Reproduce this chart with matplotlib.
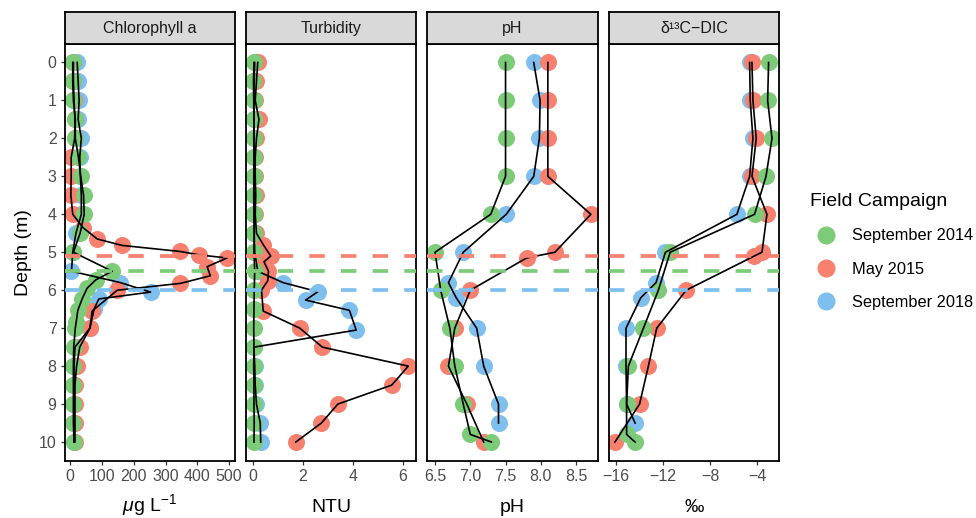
import matplotlib
matplotlib.use('Agg')
import matplotlib.pyplot as plt
from matplotlib.lines import Line2D

plt.rcParams['font.family'] = ['Liberation Sans', 'DejaVu Sans']
plt.rcParams['mathtext.fontset'] = 'custom'
plt.rcParams['mathtext.rm'] = 'Liberation Sans'
plt.rcParams['mathtext.it'] = 'Liberation Sans:italic'

# ---------------- data ----------------
campaigns = ['September 2014', 'May 2015', 'September 2018']
colors = ['#7CCB78', '#F8806F', '#7EBFEE']
dcm_depths = [5.5, 5.1, 6.0]   # dashed lines (green, red, blue)

panel_titles = ['Chlorophyll a', 'Turbidity', 'pH', 'δ¹³C−DIC']
x_titles = [r'$\mu$g L$^{\mathregular{-1}}$', 'NTU', 'pH', '‰']

# Chlorophyll a
chl_d_2014 = [0, 0.5, 1, 1.5, 2, 2.5, 3, 3.5, 4, 4.5, 5, 5.5, 5.73, 5.95, 6.22, 6.53, 6.83,
              7, 7.5, 8, 8.5, 9, 9.5, 10]
chl_v_2014 = [8, 8, 10, 16, 16, 26, 33, 42, 44, 31, 10, 132, 80, 53, 38, 24, 19,
              16, 11, 10, 10, 10, 10, 12]
chl_d_2015 = [0, 0.5, 1, 1.5, 2, 2.5, 3, 3.5, 4, 4.35, 4.65, 4.82, 4.98, 5.07, 5.15, 5.38,
              5.62, 5.82, 6.0, 6.55, 7.0, 7.5, 8, 8.5, 9, 9.5, 10]
chl_v_2015 = [10, 10, 12, 15, 14, 3, 3, 2, 8, 40, 85, 163, 347, 405, 494, 431,
              441, 347, 148, 69, 62, 30, 20, 15, 15, 15, 15]
chl_d_2018 = [0, 0.5, 1, 1.5, 2, 2.5, 3, 3.5, 4, 4.5, 5, 5.5, 5.8, 6.05, 6.23, 6.5, 7,
              7.5, 8, 8.5, 9, 9.5, 10]
chl_v_2018 = [22, 25, 28, 25, 35, 30, 32, 35, 35, 18, 8, 4, 158, 253, 90, 75, 62,
              15, 12, 12, 12, 12, 12]

# Turbidity
tur_d_2014 = [0, 0.5, 1, 1.5, 2, 2.5, 3, 3.5, 4, 4.5, 5, 5.5, 6, 6.5, 7, 7.5, 8, 8.5, 9, 9.5, 10]
tur_v_2014 = [0.05, 0.03, 0.04, 0.05, 0.04, 0.06, 0.05, 0.04, 0.05, 0.06, 0.05, 0.08,
              0.06, 0.05, 0.04, 0.05, 0.04, 0.05, 0.05, 0.06, 0.05]
tur_d_2015 = [0, 0.5, 1, 1.5, 2, 2.5, 3, 3.5, 4, 4.5, 4.8, 5.1, 5.25, 5.5, 5.75, 6.0, 6.55,
              7, 7.5, 8, 8.5, 9, 9.5, 10]
tur_v_2015 = [0.2, 0.15, 0.1, 0.25, 0.15, 0.1, 0.1, 0.12, 0.1, 0.15, 0.42, 0.72, 0.45,
              0.63, 0.6, 0.35, 0.42, 1.88, 2.78, 6.21, 5.55, 3.40, 2.74, 1.72]
tur_d_2018 = [0, 0.5, 1, 1.5, 2, 2.5, 3, 3.5, 4, 4.5, 5, 5.5, 5.8, 6.04, 6.26, 6.53, 7.05,
              7.5, 8, 8.5, 9, 9.5, 10]
tur_v_2018 = [0.08, 0.06, 0.05, 0.05, 0.06, 0.05, 0.05, 0.05, 0.06, 0.06, 0.08, 0.2,
              1.21, 2.6, 2.11, 3.86, 4.13, 0.05, 0.08, 0.1, 0.15, 0.3, 0.32]

# pH
ph_d_2014 = [0, 1, 2, 3, 4, 5, 6, 7, 8, 9, 9.8, 10]
ph_v_2014 = [7.50, 7.50, 7.50, 7.50, 7.29, 6.50, 6.58, 6.71, 6.78, 6.90, 7.00, 7.30]
ph_d_2015 = [0, 1, 2, 3, 4, 5, 5.15, 6, 7, 8, 9, 10]
ph_v_2015 = [8.10, 8.10, 8.10, 8.10, 8.71, 8.20, 7.80, 7.00, 6.78, 6.69, 6.95, 7.19]
ph_d_2018 = [0, 1, 2, 3, 4, 5, 5.8, 6.2, 7, 8, 9, 9.5]
ph_v_2018 = [7.90, 7.99, 7.98, 7.90, 7.51, 6.90, 6.69, 6.80, 7.09, 7.19, 7.40, 7.40]

# d13C-DIC
dic_d_2014 = [0, 1, 2, 3, 4, 5, 6, 7, 8, 9, 9.8, 10]
dic_v_2014 = [-3.04, -3.12, -2.75, -3.26, -4.23, -11.4, -12.4, -13.67, -14.95, -15.1, -15.1, -14.38]
dic_d_2015 = [0, 1, 2, 3, 4, 5, 5.1, 6, 7, 8, 9, 10]
dic_v_2015 = [-4.45, -4.37, -4.09, -4.45, -3.18, -3.6, -4.26, -10.04, -12.54, -13.25, -14.0, -16.09]
dic_d_2018 = [0, 1, 2, 3, 4, 5, 5.8, 6.2, 7, 8, 9, 9.5]
dic_v_2018 = [-4.65, -4.6, -4.37, -4.65, -5.73, -11.8, -12.6, -13.9, -15.15, -15.15, -15.1, -14.38]

panels = [
    [(chl_d_2014, chl_v_2014), (chl_d_2015, chl_v_2015), (chl_d_2018, chl_v_2018)],
    [(tur_d_2014, tur_v_2014), (tur_d_2015, tur_v_2015), (tur_d_2018, tur_v_2018)],
    [(ph_d_2014, ph_v_2014), (ph_d_2015, ph_v_2015), (ph_d_2018, ph_v_2018)],
    [(dic_d_2014, dic_v_2014), (dic_d_2015, dic_v_2015), (dic_d_2018, dic_v_2018)],
]
x_ticks = [[0, 100, 200, 300, 400, 500], [0, 2, 4, 6],
           [6.5, 7.0, 7.5, 8.0, 8.5], [-16, -12, -8, -4]]
x_ticklabels = [['0', '100', '200', '300', '400', '500'], ['0', '2', '4', '6'],
                ['6.5', '7.0', '7.5', '8.0', '8.5'], ['−16', '−12', '−8', '−4']]
x_lims = [(-18, 519), (-0.28, 6.53), (6.39, 8.81), (-16.62, -2.13)]
y_ticks = list(range(0, 11))

# ---------------- figure ----------------
W, H = 976, 518
fig = plt.figure(figsize=(W / 100, H / 100), dpi=100)

lefts = [64.5, 245.7, 427.3, 608.7]
pw = 170.6
p_top, p_bot, s_top = 43.5, 461.0, 12.0
tick_col = '#333333'
lab_col = '#4D4D4D'
xlab_baseline = 511.5

draw_order = [2, 1, 0]  # blue, red, green (green on top)

for i in range(4):
    ax = fig.add_axes([lefts[i] / W, 1 - p_bot / H, pw / W, (p_bot - p_top) / H])
    for c in draw_order:
        d, v = panels[i][c]
        ax.scatter(v, d, s=150, color=colors[c], linewidths=0, zorder=2)
    for c in draw_order:
        d, v = panels[i][c]
        ax.plot(v, d, color='black', lw=1.2, zorder=3)
    for c in [1, 0, 2]:
        ax.axhline(dcm_depths[c], color=colors[c], lw=2.65,
                   linestyle=(0, (4.2, 4.4)), zorder=4)
    ax.set_xlim(*x_lims[i])
    ax.set_ylim(10.5, -0.5)
    ax.set_xticks(x_ticks[i])
    ax.set_xticklabels(x_ticklabels[i])
    ax.tick_params(axis='x', length=3.2, width=0.9, color=tick_col, labelcolor=lab_col,
                   labelsize=11.5, pad=2.5)
    if i == 0:
        ax.set_yticks(y_ticks)
        ax.tick_params(axis='y', length=3.2, width=0.9, color=tick_col, labelcolor=lab_col,
                       labelsize=11.5, pad=2.5)
        ax.set_ylabel('Depth (m)', fontsize=14, labelpad=5)
    else:
        ax.set_yticks([])
    for sp in ax.spines.values():
        sp.set_linewidth(1.3)
        sp.set_color('black')
    ax.set_xlabel(x_titles[i], fontsize=14, va='baseline')
    ax.xaxis.set_label_coords(0.5, -(xlab_baseline - p_bot) / (p_bot - p_top))

    # strip
    sax = fig.add_axes([lefts[i] / W, 1 - p_top / H, pw / W, (p_top - s_top) / H])
    sax.set_facecolor('#D9D9D9')
    sax.set_xticks([])
    sax.set_yticks([])
    for sp in sax.spines.values():
        sp.set_linewidth(1.3)
        sp.set_color('black')
    sax.text(0.5, 0.48, panel_titles[i], transform=sax.transAxes, ha='center', va='center',
             fontsize=11.5, color='#1A1A1A')

handles = [Line2D([], [], marker='o', linestyle='none', markersize=13,
                  markerfacecolor=colors[c], markeredgewidth=0) for c in range(3)]
leg = fig.legend(handles, campaigns, loc='upper left', bbox_to_anchor=(810 / W, 1 - 193 / H),
                 frameon=False, fontsize=11.8, title='Field Campaign', title_fontsize=14,
                 alignment='left', borderpad=0, labelspacing=1.12, handletextpad=0.55,
                 handlelength=2.0, borderaxespad=0)

fig.savefig('out.png', dpi=100)
